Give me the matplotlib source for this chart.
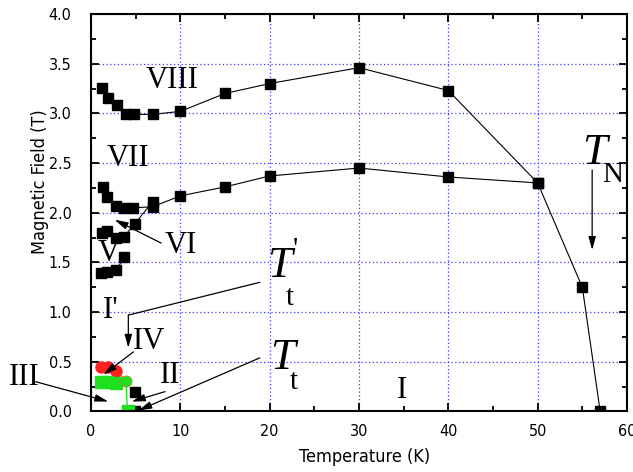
import matplotlib
matplotlib.use('Agg')
import matplotlib.pyplot as plt
from matplotlib.ticker import MultipleLocator, FormatStrFormatter
from matplotlib import font_manager

# ---------------- data ----------------
T_viii = [1.2, 1.9, 2.9, 3.9, 4.8, 6.9, 10, 15, 20, 30, 40, 50, 55, 57]
H_viii = [3.26, 3.15, 3.08, 2.99, 2.99, 2.99, 3.02, 3.20, 3.30, 3.46, 3.23, 2.30, 1.25, 0.0]

T_vii = [1.3, 1.8, 2.8, 3.7, 4.7, 6.9, 10, 15, 20, 30, 40, 50]
H_vii = [2.26, 2.16, 2.07, 2.05, 2.05, 2.06, 2.17, 2.26, 2.37, 2.45, 2.36, 2.30]

T_vi = [1.2, 1.8, 2.8, 3.7, 4.9, 6.9]
H_vi = [1.80, 1.82, 1.75, 1.76, 1.89, 2.11]

T_v = [1.1, 1.8, 2.8, 3.7]
H_v = [1.39, 1.40, 1.42, 1.55]

T_red = [1.1, 1.85, 2.8]
H_red = [0.45, 0.45, 0.41]

T_green_sq = [1.1, 1.8, 2.8]
H_green_sq = [0.30, 0.295, 0.29]
T_green_c = [3.9]
H_green_c = [0.31]
T_green_b = [4.1]
H_green_b = [0.0]

T_tt = [4.9, 4.9]
H_tt = [0.20, 0.0]

xticks = [0, 10, 20, 30, 40, 50, 60]
yticks = [0.0, 0.5, 1.0, 1.5, 2.0, 2.5, 3.0, 3.5, 4.0]

# ---------------- fonts ----------------
names = {f.name for f in font_manager.fontManager.ttflist}
cond = [f for f in font_manager.fontManager.ttflist
        if f.name == 'DejaVu Sans' and 'ondensed' in f.fname and 'Bold' not in f.fname
        and 'Oblique' not in f.fname]
if 'Liberation Sans Narrow' in names:
    SANS_PROPS = dict(family='Liberation Sans Narrow')
elif cond:
    SANS_PROPS = dict(fname=cond[0].fname)
else:
    SANS_PROPS = dict(family='DejaVu Sans')
SERIF = ['Liberation Serif', 'DejaVu Serif']


def sansfp(size):
    return font_manager.FontProperties(size=size, **SANS_PROPS)

fig = plt.figure(figsize=(6.33, 4.72), dpi=100)
ax = fig.add_axes([0.14376, 0.12818, 0.84676, 0.84216])

ax.set_xlim(0, 60)
ax.set_ylim(0, 4.0)
ax.set_xticks(xticks)
ax.set_yticks(yticks)
ax.xaxis.set_minor_locator(MultipleLocator(5))
ax.yaxis.set_minor_locator(MultipleLocator(0.25))
ax.yaxis.set_major_formatter(FormatStrFormatter('%.1f'))
ax.tick_params(which='both', direction='in', top=True, right=True, width=1.3)
ax.tick_params(which='major', length=6)
ax.tick_params(which='minor', length=3.5)
ax.tick_params(axis='y', pad=14)
ax.tick_params(axis='x', pad=9)
for lab in ax.get_xticklabels() + ax.get_yticklabels():
    lab.set_fontproperties(sansfp(11.5))
for s in ax.spines.values():
    s.set_linewidth(1.5)

ax.grid(True, which='major', color='#3a3aff', linestyle=(0, (1, 2)), linewidth=0.9)

ax.set_xlabel('Temperature (K)', fontproperties=sansfp(13))
ax.set_ylabel('Magnetic Field (T)', fontproperties=sansfp(13))
ax.xaxis.set_label_coords(0.51, -0.092)
ax.yaxis.set_label_coords(-0.078, 0.577)

sq = dict(marker='s', markersize=7, color='black', linewidth=0.8,
          markerfacecolor='black', markeredgecolor='black')
ax.plot(T_viii, H_viii, **sq)
ax.plot(T_vii, H_vii, **sq)
ax.plot(T_vi, H_vi, **sq)
ax.plot(T_v, H_v, **sq)
ax.plot(T_tt, H_tt, marker='s', markersize=7, color='black', linestyle='none')

green = '#1ee01e'
ax.plot(T_red + T_green_c, H_red + H_green_c, color='#ff2020', linewidth=0.8,
        marker='o', markersize=8, markevery=[0, 1, 2], markeredgecolor='#ff2020')
ax.plot(T_green_sq, H_green_sq, linestyle='none', marker='s', markersize=8,
        color=green, markeredgecolor=green)
ax.plot(T_green_c + T_green_b, H_green_c + H_green_b, color=green, linewidth=0.9,
        marker='none')
ax.plot(T_green_c, H_green_c, linestyle='none', marker='o', markersize=8,
        color=green, markeredgecolor='#c08030', markeredgewidth=0.6)
ax.plot(T_green_b, H_green_b, linestyle='none', marker='s', markersize=8,
        color=green, markeredgecolor=green)

# ---------------- labels ----------------
rom = dict(family=SERIF, fontsize=22, ha='center', va='center')
ax.text(9.1, 3.33, 'VIII', **rom)
ax.text(4.1, 2.55, 'VII', **rom)
ax.text(10.0, 1.675, 'VI', **rom)
ax.text(2.0, 1.585, 'V', **rom)
ax.text(2.25, 1.02, "I'", **rom)
ax.text(6.5, 0.70, 'IV', **rom)
ax.text(8.85, 0.36, 'II', **rom)
ax.text(34.8, 0.215, 'I', **rom)
ax.text(-7.45, 0.345, 'III', clip_on=False, **rom)

bigT = dict(family=SERIF, fontsize=32, style='italic', ha='center', va='center')
sub = dict(family=SERIF, fontsize=21, ha='center', va='center')
ax.text(56.4, 2.60, 'T', **bigT)
ax.text(58.4, 2.38, 'N', **sub)
ax.text(21.1, 1.46, 'T', **bigT)
ax.text(22.9, 1.63, "'", **sub)
ax.text(22.3, 1.14, 't', **sub)
ax.text(21.4, 0.54, 'T', **bigT)
ax.text(22.7, 0.30, 't', **sub)

arr = dict(arrowstyle='-|>,head_length=0.8,head_width=0.22', color='black',
           lw=0.9, mutation_scale=10, shrinkA=0, shrinkB=0)
line = dict(arrowstyle='-', color='black', lw=0.9, shrinkA=0, shrinkB=0)
# T_N
ax.annotate('', xy=(56.1, 1.625), xytext=(56.1, 2.43), arrowprops=arr)
# T_t'
ax.annotate('', xy=(4.18, 0.97), xytext=(18.9, 1.30), arrowprops=line)
ax.annotate('', xy=(4.18, 0.64), xytext=(4.18, 0.97), arrowprops=arr)
# T_t
ax.annotate('', xy=(5.3, 0.01), xytext=(18.9, 0.54), arrowprops=arr)
# VI
ax.annotate('', xy=(2.65, 1.93), xytext=(7.85, 1.695), arrowprops=arr)
# IV
ax.annotate('', xy=(1.38, 0.37), xytext=(4.75, 0.60), arrowprops=arr)
# II
ax.annotate('', xy=(4.56, 0.10), xytext=(8.3, 0.20), arrowprops=arr)
# III
ax.annotate('', xy=(1.94, 0.10), xytext=(-6.2, 0.30), arrowprops=arr,
            annotation_clip=False)

fig.savefig('out.png', dpi=100)
